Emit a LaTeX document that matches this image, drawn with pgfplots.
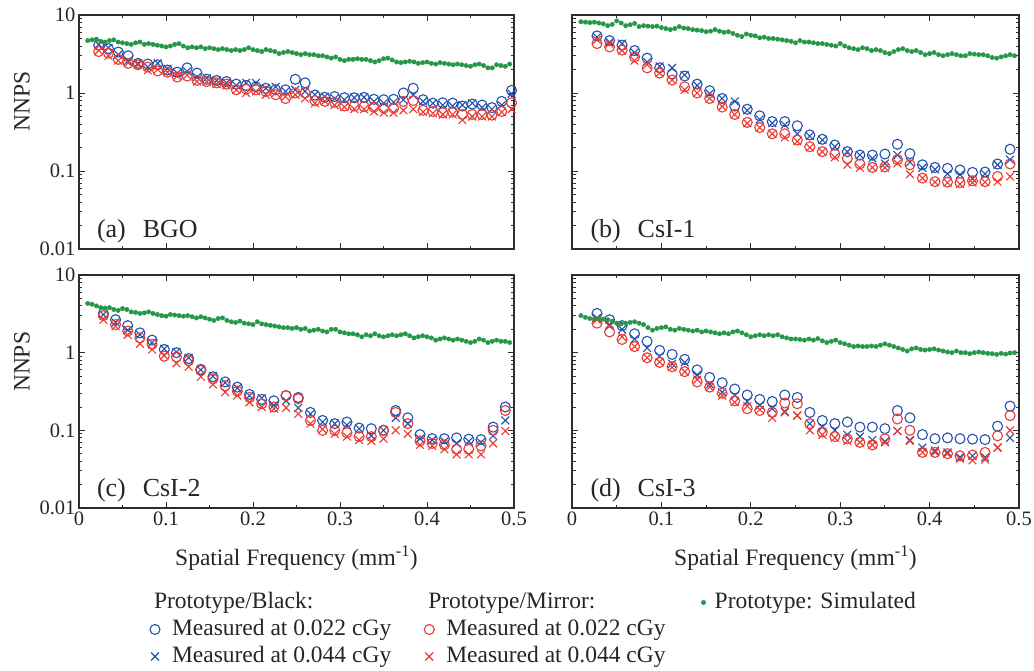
\documentclass[border=0pt]{standalone}
\usepackage{fontspec}
\setmainfont{Liberation Serif}
\usepackage{pgfplots}
\usepackage{pgfplotstable}
\pgfplotsset{compat=1.18}

\definecolor{cblue}{RGB}{33,82,176}
\definecolor{cred}{RGB}{236,58,48}
\definecolor{cgreen}{RGB}{38,150,72}
\definecolor{axgray}{RGB}{45,45,45}

% simulated NNPS, one column per panel
\pgfplotstableread{
x a b c d
0.010 4.7 8.2 4.3 3.0
0.015 4.8 8.1 4.2 2.85
0.020 4.9 8.0 4.0 2.75
0.025 4.6 8.1 3.8 2.7
0.030 4.5 7.9 3.75 2.75
0.035 4.7 7.7 3.8 2.7
0.040 4.8 7.3 3.6 2.65
0.045 4.5 7.6 3.5 2.55
0.050 4.4 8.4 3.7 2.4
0.055 4.3 7.9 3.6 2.35
0.060 4.2 7.3 3.35 2.4
0.065 4.4 7.5 3.3 2.45
0.070 4.5 7.8 3.2 2.5
0.075 4.2 7.1 3.25 2.4
0.080 4.3 7.3 3.35 2.3
0.085 4.2 7.2 3.2 2.1
0.090 4.1 7.1 3.1 1.95
0.095 4.0 7.2 3.0 2.05
0.100 3.9 6.9 2.95 2.1
0.105 4.0 6.7 3.1 2.15
0.110 4.2 6.5 3.05 2.0
0.115 4.3 6.7 3.0 1.95
0.120 4.0 7.1 2.95 2.05
0.125 3.8 6.8 3.0 2.0
0.130 3.9 6.7 2.9 1.95
0.135 3.8 6.5 2.8 1.9
0.140 3.9 6.4 2.9 1.95
0.145 3.7 6.3 2.8 1.85
0.150 3.8 6.1 2.7 1.9
0.155 3.7 6.2 2.6 1.85
0.160 3.6 6.5 2.75 1.8
0.165 3.7 6.2 2.8 1.75
0.170 3.6 6.0 2.6 1.8
0.175 3.5 6.1 2.5 1.75
0.180 3.6 5.8 2.45 1.85
0.185 3.5 5.5 2.55 1.9
0.190 3.6 5.3 2.4 1.8
0.195 3.8 5.7 2.35 1.7
0.200 3.6 5.5 2.3 1.6
0.205 3.5 5.4 2.5 1.65
0.210 3.4 5.1 2.35 1.7
0.215 3.6 5.2 2.3 1.65
0.220 3.5 5.0 2.25 1.7
0.225 3.4 5.0 2.2 1.65
0.230 3.2 4.9 2.15 1.7
0.235 3.3 4.8 2.1 1.6
0.240 3.4 4.7 2.1 1.55
0.245 3.3 4.6 2.05 1.5
0.250 3.2 4.4 2.1 1.5
0.255 3.1 4.7 2.0 1.48
0.260 3.2 4.5 2.05 1.45
0.265 3.1 4.5 1.9 1.5
0.270 3.1 4.4 1.95 1.45
0.275 3.0 4.3 2.0 1.52
0.280 3.0 4.3 1.9 1.42
0.285 2.9 4.2 1.85 1.35
0.290 2.8 4.1 2.0 1.4
0.295 2.9 4.0 2.0 1.45
0.300 2.7 4.3 1.85 1.35
0.305 2.6 4.0 1.8 1.3
0.310 2.7 3.8 1.75 1.25
0.315 2.7 3.7 1.75 1.2
0.320 2.75 3.6 1.7 1.22
0.325 2.7 3.8 1.6 1.2
0.330 2.7 3.7 1.7 1.2
0.335 2.6 3.5 1.65 1.22
0.340 2.5 3.6 1.75 1.2
0.345 2.6 3.5 1.65 1.25
0.350 2.75 3.3 1.6 1.3
0.355 2.8 3.2 1.65 1.25
0.360 2.65 3.4 1.7 1.2
0.365 2.5 3.6 1.65 1.15
0.370 2.45 3.7 1.7 1.1
0.375 2.5 3.5 1.75 1.05
0.380 2.55 3.4 1.65 1.12
0.385 2.5 3.5 1.55 1.15
0.390 2.4 3.3 1.6 1.1
0.395 2.45 3.1 1.65 1.08
0.400 2.5 3.2 1.6 1.1
0.405 2.4 3.3 1.55 1.12
0.410 2.35 3.1 1.45 1.08
0.415 2.45 3.0 1.5 1.05
0.420 2.4 3.1 1.55 1.02
0.425 2.35 3.2 1.5 1.0
0.430 2.3 3.1 1.45 1.05
0.435 2.35 3.0 1.5 1.0
0.440 2.3 3.0 1.45 1.0
0.445 2.25 3.2 1.4 0.97
0.450 2.2 3.15 1.35 1.0
0.455 2.3 3.1 1.4 1.02
0.460 2.35 3.1 1.5 1.0
0.465 2.25 3.0 1.45 0.98
0.470 2.1 2.85 1.35 0.97
0.475 2.1 2.8 1.4 0.95
0.480 2.3 2.9 1.45 0.98
0.485 2.25 3.0 1.4 0.96
0.490 2.2 3.1 1.4 0.99
0.495 2.35 3.0 1.35 1.0
}\simdata

% measured, BGO
\pgfplotstableread{
x bo bx ro rx
0.0226 4.1 4.2 3.4 3.5
0.0339 3.7 3.8 3.25 3.0
0.0452 3.35 3.1 2.7 2.6
0.0565 3.0 2.6 2.4 2.45
0.0678 2.4 2.4 2.3 2.3
0.0791 2.35 2.15 2.15 1.95
0.0904 2.3 2.4 1.92 2.0
0.1017 1.97 2.05 1.85 1.85
0.1130 1.85 1.8 1.6 1.65
0.1243 2.1 1.9 1.65 1.7
0.1356 1.8 1.6 1.45 1.4
0.1469 1.5 1.55 1.4 1.4
0.1582 1.45 1.45 1.35 1.3
0.1695 1.4 1.35 1.3 1.25
0.1808 1.3 1.25 1.1 1.1
0.1921 1.25 1.35 1.12 1.0
0.2034 1.2 1.35 1.1 1.05
0.2147 1.15 1.15 1.05 0.95
0.2260 1.1 1.2 0.95 1.0
0.2373 1.1 1.05 0.85 0.9
0.2486 1.5 1.1 1.0 0.95
0.2599 1.35 1.05 1.0 0.85
0.2712 0.94 0.95 0.8 0.74
0.2825 0.88 0.9 0.78 0.78
0.2938 0.9 0.85 0.76 0.7
0.3051 0.87 0.82 0.68 0.66
0.3164 0.87 0.87 0.68 0.62
0.3277 0.88 0.88 0.67 0.62
0.3390 0.83 0.78 0.66 0.58
0.3503 0.82 0.74 0.64 0.56
0.3616 0.83 0.76 0.64 0.56
0.3729 1.0 0.82 0.78 0.6
0.3842 1.15 0.94 0.8 0.62
0.3955 0.82 0.78 0.6 0.57
0.4068 0.74 0.74 0.58 0.55
0.4181 0.75 0.7 0.56 0.53
0.4294 0.74 0.68 0.57 0.53
0.4407 0.68 0.7 0.53 0.45
0.4520 0.72 0.74 0.53 0.5
0.4633 0.7 0.65 0.53 0.5
0.4746 0.65 0.62 0.52 0.5
0.4859 0.78 0.7 0.58 0.57
0.4972 1.08 0.98 0.75 0.62
}\bgo

% measured, CsI-1 (b), CsI-2 (c), CsI-3 (d)
\pgfplotstableread{
x bbo bbx bro brx cbo cbx cro crx dbo dbx dro drx
0.028 5.4 5.2 4.3 4.8 3.2 3.1 3.0 2.66 3.2 2.8 2.4 2.65
0.042 4.7 4.5 3.9 4.3 2.66 2.45 2.3 2.2 2.65 2.3 1.85 2.2
0.056 4.1 4.3 3.55 3.5 2.23 1.95 1.9 1.7 2.23 2.0 1.48 1.6
0.070 3.5 3.3 2.9 2.6 1.8 1.7 1.55 1.3 1.75 1.5 1.2 1.2
0.084 2.8 2.5 2.1 2.3 1.45 1.35 1.28 1.1 1.4 1.15 0.86 0.86
0.098 2.1 2.2 1.8 1.8 1.1 1.12 0.9 0.92 1.07 0.9 0.75 0.76
0.112 1.75 2.1 1.47 1.47 1.0 1.02 0.88 0.73 0.95 0.72 0.66 0.65
0.126 1.65 1.7 1.2 1.1 0.84 0.86 0.79 0.66 0.82 0.75 0.57 0.57
0.140 1.3 1.25 1.0 1.0 0.61 0.6 0.59 0.49 0.6 0.52 0.42 0.45
0.154 1.07 0.98 0.85 0.85 0.49 0.5 0.46 0.39 0.48 0.39 0.36 0.36
0.168 0.85 0.85 0.66 0.67 0.42 0.41 0.375 0.31 0.41 0.31 0.3 0.28
0.182 0.68 0.78 0.53 0.53 0.36 0.35 0.32 0.28 0.34 0.28 0.24 0.23
0.196 0.62 0.6 0.42 0.41 0.29 0.28 0.265 0.23 0.285 0.235 0.19 0.205
0.210 0.51 0.46 0.36 0.36 0.25 0.26 0.22 0.2 0.25 0.21 0.18 0.185
0.224 0.43 0.41 0.30 0.30 0.24 0.21 0.2 0.19 0.235 0.19 0.17 0.145
0.238 0.43 0.39 0.30 0.27 0.28 0.24 0.28 0.195 0.285 0.175 0.225 0.17
0.252 0.38 0.30 0.25 0.24 0.265 0.195 0.255 0.163 0.265 0.155 0.22 0.155
0.266 0.29 0.28 0.205 0.20 0.17 0.163 0.134 0.122 0.17 0.122 0.122 0.1
0.280 0.255 0.25 0.177 0.177 0.134 0.128 0.1 0.103 0.134 0.11 0.095 0.088
0.294 0.215 0.205 0.165 0.15 0.122 0.122 0.1 0.09 0.122 0.1 0.083 0.08
0.308 0.177 0.177 0.145 0.12 0.128 0.117 0.093 0.083 0.128 0.088 0.078 0.073
0.322 0.16 0.16 0.123 0.11 0.107 0.105 0.083 0.075 0.11 0.083 0.07 0.07
0.336 0.16 0.145 0.111 0.111 0.105 0.085 0.083 0.073 0.11 0.075 0.065 0.065
0.350 0.165 0.125 0.113 0.11 0.1 0.1 0.1 0.078 0.105 0.072 0.078 0.07
0.364 0.22 0.16 0.14 0.125 0.18 0.145 0.17 0.1 0.18 0.098 0.14 0.098
0.378 0.167 0.13 0.12 0.091 0.145 0.122 0.122 0.09 0.145 0.075 0.1 0.073
0.392 0.12 0.11 0.081 0.081 0.088 0.078 0.073 0.065 0.088 0.06 0.052 0.052
0.406 0.111 0.105 0.073 0.072 0.078 0.075 0.068 0.063 0.078 0.055 0.052 0.052
0.420 0.108 0.092 0.072 0.071 0.078 0.072 0.065 0.057 0.08 0.052 0.05 0.05
0.434 0.103 0.09 0.071 0.068 0.08 0.068 0.057 0.049 0.078 0.045 0.047 0.043
0.448 0.096 0.08 0.075 0.071 0.077 0.072 0.057 0.049 0.077 0.047 0.048 0.041
0.462 0.097 0.092 0.073 0.072 0.076 0.07 0.063 0.049 0.076 0.045 0.052 0.042
0.476 0.123 0.12 0.085 0.073 0.11 0.085 0.1 0.068 0.113 0.06 0.085 0.06
0.490 0.19 0.14 0.123 0.085 0.2 0.134 0.18 0.098 0.205 0.08 0.155 0.1
}\csi

\pgfplotsset{
  bo/.style={only marks, mark=o, mark size=5pt, cblue, line width=1.1pt},
  bx/.style={only marks, mark=x, mark size=5.5pt, cblue, line width=1.1pt},
  ro/.style={only marks, mark=o, mark size=5pt, cred, line width=1.1pt},
  rx/.style={only marks, mark=x, mark size=5.5pt, cred, line width=1.1pt},
  sim/.style={only marks, mark=*, mark size=2.2pt, cgreen, mark options={draw=cgreen, fill=cgreen}},
  legimg/.style={legend image code/.code={\draw[##1] plot coordinates {(0pt,0pt)};
    \pgfpathrectangle{\pgfpoint{-8pt}{-4pt}}{\pgfpoint{16pt}{8pt}}\pgfusepath{use as bounding box}}},
  legimgsim/.style={legend image code/.code={\draw[##1] plot coordinates {(0pt,0pt)};
    \pgfpathrectangle{\pgfpoint{-8pt}{-4pt}}{\pgfpoint{9pt}{8pt}}\pgfusepath{use as bounding box}}},
}
\newcommand{\panellabel}[2]{\node[anchor=base west, inner sep=0pt, font=\fontsize{26}{30}\selectfont, text=black!85] at (rel axis cs:0.041,0.051) {(#1)\hspace{0.65em}#2};}

\begin{document}
\begin{tikzpicture}
\useasboundingbox (0pt,0pt) rectangle (1034pt,-671pt);

% (a) BGO
\begin{axis}[scale only axis, width=435pt, height=234pt, at={(79pt,-249pt)}, anchor=south west,
  ymode=log, xmin=0, xmax=0.5, ymin=0.01, ymax=10,
  xtick={0,0.1,0.2,0.3,0.4,0.5}, minor xtick={0.05,0.15,0.25,0.35,0.45},
  ytick={0.01,0.1,1,10}, yticklabels={\textrm{0.01},\textrm{0.1},\textrm{1},\textrm{10}}, xticklabels={},
  tick align=inside, axis line style={line width=1.1pt, axgray},
  major tick style={axgray, line width=0.9pt}, minor tick style={axgray, line width=0.9pt},
  major tick length=6pt, minor tick length=3.5pt,
  tick label style={font=\fontsize{20.5}{24}\selectfont, text=black!85},
  ylabel={NNPS}, ylabel style={font=\fontsize{23.5}{28}\selectfont, text=black!85, at={(axis description cs:-0.131,0.632)}, anchor=center},
  clip=false]
\addplot[bo] table[x=x, y=bo] {\bgo};
\addplot[bx] table[x=x, y=bx] {\bgo};
\addplot[ro] table[x=x, y=ro] {\bgo};
\addplot[rx] table[x=x, y=rx] {\bgo};
\addplot[sim] table[x=x, y=a] {\simdata};
\panellabel{a}{BGO}
\end{axis}

% (b) CsI-1
\begin{axis}[scale only axis, width=447pt, height=234pt, at={(572pt,-249pt)}, anchor=south west,
  ymode=log, xmin=0, xmax=0.5, ymin=0.01, ymax=10,
  xtick={0,0.1,0.2,0.3,0.4,0.5}, minor xtick={0.05,0.15,0.25,0.35,0.45},
  ytick={0.01,0.1,1,10}, yticklabels={}, xticklabels={},
  tick align=inside, axis line style={line width=1.1pt, axgray},
  major tick style={axgray, line width=0.9pt}, minor tick style={axgray, line width=0.9pt},
  major tick length=6pt, minor tick length=3.5pt,
  clip=false]
\addplot[bo] table[x=x, y=bbo] {\csi};
\addplot[bx] table[x=x, y=bbx] {\csi};
\addplot[ro] table[x=x, y=bro] {\csi};
\addplot[rx] table[x=x, y=brx] {\csi};
\addplot[sim] table[x=x, y=b] {\simdata};
\panellabel{b}{CsI-1}
\end{axis}

% (c) CsI-2
\begin{axis}[scale only axis, width=435pt, height=233pt, at={(79pt,-508pt)}, anchor=south west,
  ymode=log, xmin=0, xmax=0.5, ymin=0.01, ymax=10,
  xtick={0,0.1,0.2,0.3,0.4,0.5}, minor xtick={0.05,0.15,0.25,0.35,0.45},
  xticklabels={\textrm{0},\textrm{0.1},\textrm{0.2},\textrm{0.3},\textrm{0.4},\textrm{0.5}},
  ytick={0.01,0.1,1,10}, yticklabels={\textrm{0.01},\textrm{0.1},\textrm{1},\textrm{10}},
  tick align=inside, axis line style={line width=1.1pt, axgray},
  major tick style={axgray, line width=0.9pt}, minor tick style={axgray, line width=0.9pt},
  major tick length=6pt, minor tick length=3.5pt,
  tick label style={font=\fontsize{20.5}{24}\selectfont, text=black!85},
  ylabel={NNPS}, ylabel style={font=\fontsize{23.5}{28}\selectfont, text=black!85, at={(axis description cs:-0.131,0.627)}, anchor=center},
  xlabel={Spatial Frequency (mm\textsuperscript{-1})},
  xlabel style={font=\fontsize{23.5}{28}\selectfont, text=black!85, at={(axis description cs:0.5,-0.215)}, anchor=center},
  clip=false]
\addplot[bo] table[x=x, y=cbo] {\csi};
\addplot[bx] table[x=x, y=cbx] {\csi};
\addplot[ro] table[x=x, y=cro] {\csi};
\addplot[rx] table[x=x, y=crx] {\csi};
\addplot[sim] table[x=x, y=c] {\simdata};
\panellabel{c}{CsI-2}
\end{axis}

% (d) CsI-3
\begin{axis}[scale only axis, width=447pt, height=233pt, at={(572pt,-508pt)}, anchor=south west,
  ymode=log, xmin=0, xmax=0.5, ymin=0.01, ymax=10,
  xtick={0,0.1,0.2,0.3,0.4,0.5}, minor xtick={0.05,0.15,0.25,0.35,0.45},
  xticklabels={\textrm{0},\textrm{0.1},\textrm{0.2},\textrm{0.3},\textrm{0.4},\textrm{0.5}},
  ytick={0.01,0.1,1,10}, yticklabels={},
  tick align=inside, axis line style={line width=1.1pt, axgray},
  major tick style={axgray, line width=0.9pt}, minor tick style={axgray, line width=0.9pt},
  major tick length=6pt, minor tick length=3.5pt,
  tick label style={font=\fontsize{20.5}{24}\selectfont, text=black!85},
  xlabel={Spatial Frequency (mm\textsuperscript{-1})},
  xlabel style={font=\fontsize{23.5}{28}\selectfont, text=black!85, at={(axis description cs:0.5,-0.215)}, anchor=center},
  clip=false]
\addplot[bo] table[x=x, y=dbo] {\csi};
\addplot[bx] table[x=x, y=dbx] {\csi};
\addplot[ro] table[x=x, y=dro] {\csi};
\addplot[rx] table[x=x, y=drx] {\csi};
\addplot[sim] table[x=x, y=d] {\simdata};
\panellabel{d}{CsI-3}
\end{axis}

% shared legend
\begin{axis}[hide axis, scale only axis, width=10pt, height=10pt,
  xmin=0, xmax=1, ymin=0, ymax=1,
  at={(147pt,-589pt)}, anchor=north west,
  legend columns=3, legend cell align=left,
  legend style={at={(0,1)}, anchor=north west, draw=none, fill=none,
    inner sep=0pt, outer sep=0pt, row sep=0pt,
    font=\fontsize{23.5}{28}\selectfont, text=black!85,
    nodes={inner xsep=0pt, inner ysep=2pt, text height=17pt, text depth=6pt, anchor=west},
    /tikz/every odd column/.append style={column sep=9pt},
    /tikz/every even column/.append style={column sep=30pt}},
]
\addlegendimage{empty legend}
\addlegendentry{\hspace*{-18pt}Prototype/Black:}
\addlegendimage{empty legend}
\addlegendentry{\hspace*{-18pt}Prototype/Mirror:}
\addlegendimage{sim, legimgsim}
\addlegendentry{Prototype: Simulated}
\addlegendimage{bo, legimg}
\addlegendentry{Measured at 0.022 cGy}
\addlegendimage{ro, legimg}
\addlegendentry{Measured at 0.022 cGy}
\addlegendimage{empty legend}
\addlegendentry{}
\addlegendimage{bx, legimg}
\addlegendentry{Measured at 0.044 cGy}
\addlegendimage{rx, legimg}
\addlegendentry{Measured at 0.044 cGy}
\end{axis}
\end{tikzpicture}
\end{document}
